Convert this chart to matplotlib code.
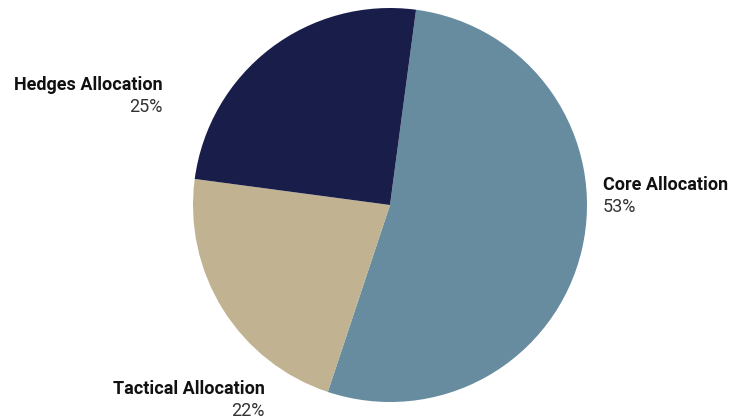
import matplotlib.pyplot as plt

W, H = 734, 419

labels = ["Core Allocation", "Tactical Allocation", "Hedges Allocation"]
shares = [53, 22, 25]
colors = ["#688c9f", "#c1b392", "#191d4a"]

fig = plt.figure(figsize=(W / 100, H / 100), dpi=100)
ax = fig.add_axes([0, 0, 1, 1])

ax.pie(shares, colors=colors, startangle=82.4, counterclock=False,
       center=(390, H - 205), radius=197,
       wedgeprops=dict(linewidth=0))
ax.set_xlim(0, W)
ax.set_ylim(0, H)
ax.set_aspect("equal")
ax.axis("off")

# label anchor (x, y of first line in pixels from top), alignment
label_pos = [(603, 185, "left"), (265, 389, "right"), (163, 85, "right")]
for (x, y, ha), name, pct in zip(label_pos, labels, shares):
    ax.text(x, H - y, name, ha=ha, va="center", fontsize=13,
            fontweight="bold", family="Roboto", color="#111111")
    ax.text(x, H - y - 22, f"{pct}%", ha=ha, va="center", fontsize=13,
            family="Roboto", color="#333333")

fig.savefig("out.png", dpi=100)
